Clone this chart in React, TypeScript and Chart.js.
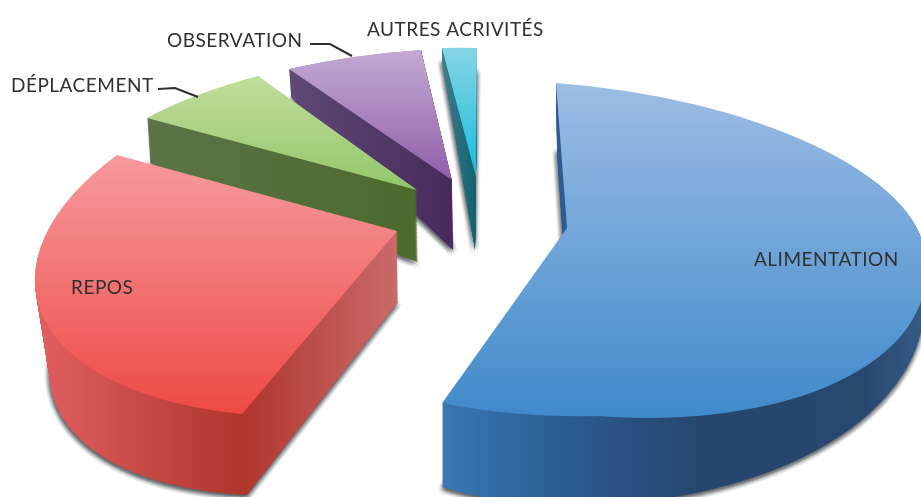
import React, { useEffect, useRef } from "react";
import { Chart, registerables } from "chart.js";

Chart.register(...registerables);

const categories = ["ALIMENTATION", "REPOS", "DÉPLACEMENT", "OBSERVATION", "AUTRES ACRIVITÉS"];
const shares = [56.8, 28.9, 6.4, 6.3, 1.6];

type P = [number, number];
// Projection of each exploded slice: top face and base, either by tip + rim ends or tip + four half-axes.
const projection: any[] = [
  {
    top: { o: [567, 228], r: [358, 27], u: [-11, -145], d: [30, 188], l: [-367, 9.6] },
    base: { o: [567, 300], r: [357, 5], u: [-10, -150], d: [0, 205], l: [-301, 1] },
    face: [[83, "#9dbde4"], [418, "#3f8acb"]],
    wall: [[442, "#3a78b4"], [560, "#2b5d92"], [700, "#26466f"], [860, "#27476f"], [921, "#345a85"]],
  },
  {
    top: { o: [397, 231], s: [242, 414], e: [117, 155] },
    base: { o: [398, 302], s: [247, 495], e: [130, 240] },
    face: [[155, "#f69a9e"], [414, "#ee4a44"]],
    wall: [[40, "#e05f5f"], [240, "#b0352b"], [398, "#ca6a6a"]],
  },
  {
    top: { o: [417, 190], s: [147, 118], e: [258, 76] },
    base: { o: [418, 262], s: [150, 163], e: [258, 118] },
    face: [[76, "#c2de9c"], [190, "#93c66b"]],
    wall: [[147, "#5b7447"], [418, "#4c6a2c"]],
  },
  {
    top: { o: [452, 180], s: [289, 69], e: [421, 50] },
    base: { o: [453, 250], s: [291, 97], e: [421, 80] },
    face: [[50, "#c5a9d3"], [180, "#8e5fa9"]],
    wall: [[289, "#5f4a75"], [453, "#47295b"]],
  },
  {
    top: { o: [476, 177], s: [442, 48], e: [477, 48] },
    base: { o: [475, 250], s: [442, 60], e: [477, 70] },
    face: [[48, "#87d4e7"], [177, "#15bdd9"]],
    wall: [[442, "#3d7f90"], [475, "#13616f"]],
  },
];

const shadowStops: any[] = [[0, "rgba(60,66,72,0.05)"], [921, "rgba(60,66,72,0.05)"]];
const labelAt: P[] = [[754, 260], [71, 288], [11, 86], [167, 41], [367, 30]];
const leaders: (P[] | null)[] = [
  null,
  null,
  [[158, 89], [175, 88], [198, 97]],
  [[310, 44], [330, 44], [352, 56]],
  null,
];

function pieces(frame: any, arc: any) {
  const [ox, oy] = frame.o;
  if (frame.s) {
    const u0: P = [Math.cos(arc.startAngle), Math.sin(arc.startAngle)];
    const u1: P = [Math.cos(arc.endAngle), Math.sin(arc.endAngle)];
    const v0: P = [frame.s[0] - ox, frame.s[1] - oy];
    const v1: P = [frame.e[0] - ox, frame.e[1] - oy];
    const det = u0[0] * u1[1] - u1[0] * u0[1];
    const ia = u1[1] / det, ib = -u1[0] / det, ic = -u0[1] / det, id = u0[0] / det;
    return [{
      m: [v0[0] * ia + v1[0] * ic, v0[1] * ia + v1[1] * ic, v0[0] * ib + v1[0] * id, v0[1] * ib + v1[1] * id],
      o: [ox, oy],
      clip: null,
    }];
  }
  const { r, u, d, l } = frame;
  return [
    { m: [r[0], r[1], -u[0], -u[1]], o: [ox, oy], clip: [0, -1] },
    { m: [r[0], r[1], d[0], d[1]], o: [ox, oy], clip: [0, 0] },
    { m: [-l[0], -l[1], d[0], d[1]], o: [ox, oy], clip: [-1, 0] },
  ];
}

const lerp = (a: number, b: number, t: number) => a + (b - a) * t;

function drawPiece(ctx: any, arc: any, pc: any, stops: any[], horizontal: boolean) {
  const R = arc.outerRadius, Cx = arc.x, Cy = arc.y;
  const [ma, mb, mc, md] = pc.m.map((v: number) => v / R);
  const [ox, oy] = pc.o;
  const first = stops[0][0], last = stops[stops.length - 1][0];
  const span = last - first;
  const S0: P = horizontal ? [first, 0] : [0, first];
  const g: P = horizontal ? [1 / span, 0] : [0, 1 / span];
  const G: P = [ma * g[0] + mb * g[1], mc * g[0] + md * g[1]];
  const det = ma * md - mb * mc;
  const dx = S0[0] - ox, dy = S0[1] - oy;
  const p0: P = [(md * dx - mc * dy) / det + Cx, (-mb * dx + ma * dy) / det + Cy];
  const gg = G[0] * G[0] + G[1] * G[1];
  const grad = ctx.createLinearGradient(p0[0], p0[1], p0[0] + G[0] / gg, p0[1] + G[1] / gg);
  stops.forEach(([pos, col]) => grad.addColorStop((pos - first) / span, col));

  ctx.save();
  ctx.transform(ma, mb, mc, md, ox - (ma * Cx + mc * Cy), oy - (mb * Cx + md * Cy));
  if (pc.clip) {
    const big = 3 * R, eps = 0.6;
    const x0 = pc.clip[0] === 0 ? Cx - eps : Cx - big;
    const x1 = pc.clip[0] === 0 ? Cx + big : Cx + eps;
    const y0 = pc.clip[1] === 0 ? Cy - eps : Cy - big;
    const y1 = pc.clip[1] === 0 ? Cy + big : Cy + eps;
    ctx.beginPath();
    ctx.rect(x0, y0, x1 - x0, y1 - y0);
    ctx.clip();
  }
  const saved = arc.options;
  arc.options = { ...saved, backgroundColor: grad, borderWidth: 0 };
  arc.draw(ctx);
  arc.options = saved;
  ctx.restore();
}

const pie3d = {
  id: "pie3d",
  beforeDatasetDraw(chart: any) {
    const ctx = chart.ctx;
    const arcs = chart.getDatasetMeta(0).data;
    for (let i = arcs.length - 1; i >= 0; i--) {
      const arc = arcs[i];
      const spec = projection[i];
      const topP = pieces(spec.top, arc);
      const baseP = pieces(spec.base, arc);
      // soft contact shadow: translucent copies of the base, spread in rings
      for (let r = 1; r <= 5; r++) {
        for (let a = 0; a < 8; a++) {
          const ang = (a * Math.PI) / 4;
          const dx = Math.cos(ang) * r - 0.5, dy = Math.sin(ang) * r + 2;
          baseP.forEach((b: any) =>
            drawPiece(ctx, arc, { ...b, o: [b.o[0] + dx, b.o[1] + dy] }, shadowStops, true)
          );
        }
      }
      const layers = 90;
      for (let k = layers; k >= 1; k--) {
        const t = k / layers;
        topP.forEach((p: any, n: number) => {
          const b = baseP[n];
          drawPiece(ctx, arc, {
            m: p.m.map((v: number, j: number) => lerp(v, b.m[j], t)),
            o: [lerp(p.o[0], b.o[0], t), lerp(p.o[1], b.o[1], t)],
            clip: p.clip,
          }, spec.wall, true);
        });
      }
      topP.forEach((p: any) => drawPiece(ctx, arc, p, spec.face, false));
    }
    return false;
  },
  afterDraw(chart: any) {
    const ctx = chart.ctx;
    ctx.save();
    ctx.font = '19px Lato';
    ctx.letterSpacing = "0.5px";
    ctx.fillStyle = "#303030";
    ctx.textBaseline = "middle";
    ctx.textAlign = "left";
    categories.forEach((c, i) => ctx.fillText(c, labelAt[i][0], labelAt[i][1]));
    ctx.strokeStyle = "#303030";
    ctx.lineWidth = 2;
    leaders.forEach((line) => {
      if (!line) return;
      ctx.beginPath();
      line.forEach(([x, y], j) => (j ? ctx.lineTo(x, y) : ctx.moveTo(x, y)));
      ctx.stroke();
    });
    ctx.restore();
  },
};

export default function App() {
  const ref = useRef<HTMLCanvasElement | null>(null);
  useEffect(() => {
    const chart = new Chart(ref.current as HTMLCanvasElement, {
      type: "pie",
      data: { labels: categories, datasets: [{ data: shares, borderWidth: 0 }] },
      options: {
        animation: false,
        responsive: false,
        events: [],
        layout: { padding: 0 },
        plugins: { legend: { display: false }, tooltip: { enabled: false } },
      },
      plugins: [pie3d],
    } as any);
    return () => chart.destroy();
  }, []);
  return (
    <div style={{ position: "fixed", left: 0, top: 0, width: 921, height: 497, overflow: "hidden", background: "#fff" }}>
      <canvas ref={ref} width={921} height={497} style={{ display: "block", filter: "blur(0.7px)" }} />
    </div>
  );
}
